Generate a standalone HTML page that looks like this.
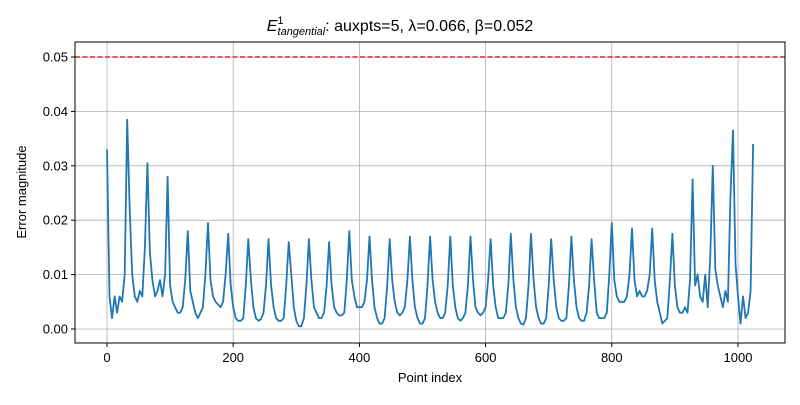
<!DOCTYPE html>
<html><head><meta charset="utf-8"><style>
body{margin:0;background:#fff}
svg{font-family:"Liberation Sans","DejaVu Sans",sans-serif}
</style></head><body>
<svg id="chart" width="800" height="400" viewBox="0 0 800 400">
<rect width="800" height="400" fill="#fff"/>
<g id="grid"></g>
<g id="series"></g>
<rect x="75" y="42" width="710" height="301" fill="none" stroke="#000" stroke-width="1"/>
<g id="ticks"></g>
<text x="400" y="31" text-anchor="middle" font-size="16"><tspan font-style="italic">E</tspan><tspan font-size="11" dy="-7">1</tspan><tspan font-size="11" font-style="italic" dx="-6" dy="11">tangential</tspan><tspan dy="-4">: auxpts=5, λ=0.066, β=0.052</tspan></text>
<text x="430" y="382" text-anchor="middle" font-size="13">Point index</text>
<text transform="translate(26,192) rotate(-90)" text-anchor="middle" font-size="13">Error magnitude</text>
</svg>
<script>
const xTicks=[0,200,400,600,800,1000];
const yTicks=[0.00,0.01,0.02,0.03,0.04,0.05];
const yTickLabels=["0.00","0.01","0.02","0.03","0.04","0.05"];
const threshold=0.05;
const indexStep=4;
const errorValues=[
0.033,0.006,0.002,0.006,0.003,0.006,0.005,0.010,
0.0385,0.022,0.010,0.006,0.005,0.007,0.006,0.015,
0.0305,0.014,0.009,0.006,0.007,0.009,0.006,0.010,
0.028,0.008,0.005,0.004,0.003,0.003,0.004,0.009,
0.018,0.007,0.005,0.003,0.002,0.003,0.004,0.010,
0.0195,0.009,0.006,0.005,0.0045,0.004,0.005,0.010,
0.0175,0.008,0.004,0.002,0.0015,0.0015,0.002,0.008,
0.0165,0.009,0.004,0.002,0.0015,0.0018,0.003,0.008,
0.0165,0.008,0.004,0.002,0.0015,0.0015,0.002,0.008,
0.016,0.010,0.004,0.0015,0.0005,0.0005,0.002,0.008,
0.0165,0.009,0.004,0.003,0.002,0.002,0.003,0.008,
0.016,0.008,0.004,0.003,0.0025,0.0025,0.003,0.009,
0.018,0.009,0.006,0.004,0.004,0.004,0.005,0.009,
0.017,0.009,0.004,0.002,0.001,0.001,0.002,0.008,
0.0165,0.009,0.005,0.003,0.0025,0.003,0.004,0.009,
0.017,0.009,0.004,0.002,0.001,0.001,0.002,0.008,
0.017,0.009,0.005,0.003,0.002,0.002,0.003,0.008,
0.017,0.008,0.004,0.002,0.0015,0.002,0.003,0.008,
0.017,0.009,0.004,0.003,0.0025,0.003,0.004,0.009,
0.0165,0.008,0.004,0.002,0.002,0.002,0.003,0.008,
0.0175,0.009,0.004,0.002,0.001,0.0008,0.002,0.008,
0.0175,0.009,0.004,0.002,0.001,0.001,0.002,0.008,
0.0165,0.009,0.004,0.002,0.0015,0.0015,0.002,0.008,
0.017,0.009,0.004,0.002,0.0015,0.0015,0.003,0.008,
0.0165,0.009,0.003,0.002,0.002,0.002,0.003,0.010,
0.0195,0.009,0.006,0.005,0.005,0.005,0.006,0.010,
0.0185,0.009,0.006,0.007,0.006,0.006,0.007,0.010,
0.0185,0.009,0.005,0.003,0.001,0.0015,0.002,0.009,
0.0175,0.008,0.004,0.003,0.003,0.004,0.003,0.009,
0.0275,0.008,0.010,0.006,0.005,0.010,0.004,0.013,
0.030,0.011,0.008,0.006,0.004,0.007,0.005,0.024,
0.0365,0.012,0.006,0.001,0.006,0.002,0.003,0.007,
0.034];
const NS="http://www.w3.org/2000/svg";
const X=i=>107+i*0.631;
const Y=v=>329-v*5440;
const grid=document.getElementById('grid'),ticks=document.getElementById('ticks'),series=document.getElementById('series');
function mk(tag,attrs,parent){const e=document.createElementNS(NS,tag);for(const k in attrs)e.setAttribute(k,attrs[k]);parent.appendChild(e);return e;}
xTicks.forEach(t=>{
 const g=mk('line',{x1:X(t),x2:X(t),y1:42,y2:343,stroke:'#b0b0b0','stroke-width':0.8},grid);
 
 
 const tk=mk('line',{x1:X(t),x2:X(t),y1:343,y2:347,stroke:'#000'},ticks);
 
 
 const tx=mk('text',{x:X(t),y:362,'text-anchor':'middle','font-size':13},ticks);
 tx.textContent=t;
 
 
});
yTicks.forEach((t,i)=>{
 const g=mk('line',{x1:75,x2:785,y1:Y(t),y2:Y(t),stroke:'#b0b0b0','stroke-width':0.8},grid);
 
 
 const tk=mk('line',{x1:71,x2:75,y1:Y(t),y2:Y(t),stroke:'#000'},ticks);
 
 
 const tx=mk('text',{x:68,y:Y(t)+4.5,'text-anchor':'end','font-size':13},ticks);
 tx.textContent=yTickLabels[i];
 
 
});
const thr=mk('line',{x1:75,x2:785,y1:Y(threshold),y2:Y(threshold),stroke:'#d62728','stroke-width':1.5,'stroke-dasharray':'5,2.5'},series);


const pts=errorValues.map((v,i)=>X(i*indexStep).toFixed(1)+','+Y(v).toFixed(1)).join(' ');
const pl=mk('polyline',{points:pts,fill:'none',stroke:'#1f77b4','stroke-width':1.8,'stroke-linejoin':'round'},series);


</script>
</body></html>
